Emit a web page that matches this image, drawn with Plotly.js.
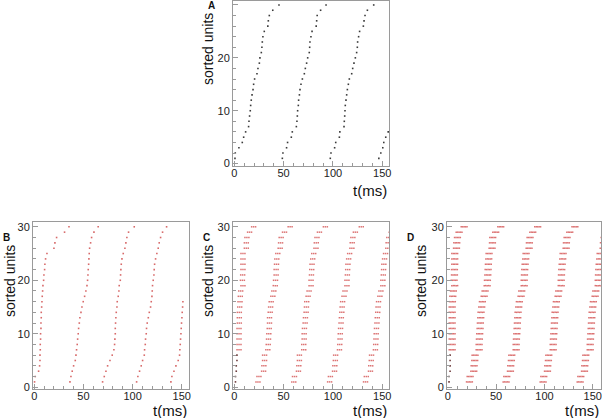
<!DOCTYPE html>
<html>
<head>
<meta charset="utf-8">
<script src="https://cdn.plot.ly/plotly-3.0.1.min.js"></script>
<style>html,body{margin:0;padding:0;background:#fff;}#chart{width:602px;height:418px;}</style>
</head>
<body>
<div id="chart"></div>
<script>
// ---- data (spike times in ms, index 0 = unit 1 ... index 29 = unit 30) ----
var units = [1,2,3,4,5,6,7,8,9,10,11,12,13,14,15,16,17,18,19,20,21,22,23,24,25,26,27,28,29,30];
var xTickVals = [0, 50, 100, 150];
var yTickVals = [0, 10, 20, 30];

// Panel A: single spikes, black
var A_sweep1 = [0.7,1,4.7,8.1,9.5,11.5,14.5,14.9,15.5,16.2,16.6,17.2,18,19,19.6,20.6,23,24,25.4,26,27.4,28,28.4,29,30.4,34,34.5,35.5,39,45.3];
var A_sweep2 = [48.7,49.3,53,54,57.8,58.8,62.9,63.5,63.9,64.2,64.9,65.2,66,66.6,67.6,69,71,72,73.3,74.4,76,76.4,76.7,77.7,78.8,83,83.5,84,87.5,93];
var A_sweep3 = [97.3,98,101.7,102.8,106.5,107,111.2,111.5,111.9,112.2,112.5,113.2,113.9,114.6,115.6,116.6,119,120,121.3,122.7,124,124.7,125,126,127,130.8,131.5,132.5,134.9,141.3];
var A_sweep4 = [146.5,148.5,150.5,151.5,153.5,156,null,null,null,null,null,null,null,null,null,null,null,null,null,null,null,null,null,null,null,null,null,null,null,null];

// Panel B: single spikes
var B_sweep1 = [0.3,1,4.4,5.4,5.8,5.8,6.1,6.1,6.4,6.4,6.8,6.8,7.1,7.1,7.5,7.8,8.1,8.5,8.8,9.5,9.8,10.5,10.8,11.5,12.9,20,21,22.7,30.8,35.3];
var B_sweep2 = [36.3,37.3,38.6,40,41.7,42.4,43,43.7,44.1,44.7,45.1,45.8,46.4,47.5,48.5,49.8,51.2,52.5,53.6,54.2,54.6,54.9,55.3,55.6,55.9,56.3,57.3,58.3,60.7,65];
var B_sweep3 = [69.5,71.2,72.9,74.6,77,79.3,81,81.7,82,82.4,82.4,82.7,83,83.4,84.1,84.4,85.4,86.1,86.4,87.5,87.8,88.1,88.5,89.2,90.5,92.2,93.2,94.2,95.9,101.7];
var B_sweep4 = [104.1,105.4,107.1,108.8,110.2,111.9,112.2,112.9,113.2,113.9,114.2,114.9,116,117,118.3,119,119.7,120,120.3,121,121.7,122,122.4,123.4,124.7,126.1,127.1,128.5,130.5,134.6];
var B_sweep5 = [139,140,142.1,144.1,146.4,147.8,148.1,148.5,148.8,149.2,149.5,149.8,150.2,150.5,150.9,151.2,null,null,null,null,null,null,null,null,null,null,null,null,null,null];

// Panel C: bursts of 3 spikes (burst centre per unit)
var C_burst = [-2, 0, 2];
var C_initial = [1.2,1.2,2,2,2.7,2.7,null,null,null,null,null,null,null,null,null,null,null,null,null,null,null,null,null,null,null,null,null,null,null,null];
var C_sweep1 = [null,null,null,null,null,null,4.8,4.8,4.8,4.8,4.8,5.1,5.1,5.1,5.5,5.8,6.1,6.5,8.8,8.2,8.5,8.8,8.8,8.8,8.8,12.2,12.2,12.8,15.5,19.6];
var C_sweep2 = [24,25,29.7,30,30.7,30.7,34,34.4,34.7,35,35.4,35.7,35.7,36.4,36.8,37.4,39.1,40.1,41.5,41.8,42.4,42.4,42.8,43.1,44.1,46.5,46.9,47.5,50.9,56.6];
var C_sweep3 = [60.3,61,65,65.4,66,66,70.4,70.4,70.8,70.8,71.1,71.8,72.1,72.8,73.1,73.4,74.8,75.8,77.8,77.8,78.2,78.5,78.8,79.5,80.5,82.8,83.1,83.8,86.3,92.3];
var C_sweep4 = [96.6,97.4,101.6,101.9,102.4,102.7,106.6,106.9,107.2,107.4,107.7,108.2,108.5,109,109.3,109.8,111.2,112.2,114.2,114.2,114.6,114.9,115.2,115.9,116.9,119.2,119.5,120.2,122.7,128.7];
var C_sweep5 = [133,133.8,138,138.3,138.8,139.1,143,143.3,143.6,143.8,144.1,144.6,144.9,145.4,145.7,146.2,147.6,148.6,150.6,150.6,151,151.3,151.6,152.3,153.3,155.6,155.9,156.6,159,165];

// Panel D: bursts of 5 spikes (burst centre per unit)
var D_burst = [-3, -1.5, 0, 1.5, 3];
var D_initial = [1.3,1.3,2.4,2.4,2.4,2.4,null,null,null,null,null,null,null,null,null,null,null,null,null,null,null,null,null,null,null,null,null,null,null,null];
var D_sweep1 = [null,null,null,null,null,null,4.5,4.5,4.5,4.5,4.5,4.5,4.5,4.5,4.5,4.8,5.2,5.8,7.2,6.5,6.9,6.9,7.2,7.2,7.2,9,9.3,10,11.7,16.9];
var D_sweep2 = [22.4,23.1,26.9,27.2,27.9,28.2,32.4,32.4,32.7,33,33.4,33.7,34.1,34.4,35.1,35.8,37.6,38.6,40.7,41,41.4,41.7,42,42.4,42.7,45.8,46.2,46.5,49.6,54.8];
var D_sweep3 = [60.3,61,64.8,65.1,65.8,66.2,70.7,70.7,71,71.4,71.7,72,72.4,72.7,73.4,74,75.8,76.5,79,79,79.3,79.6,80,80.6,81,84.1,84.4,85.1,87.9,93];
var D_sweep4 = [98.6,99.3,103.1,103.4,104.1,104.5,109,109,109.3,109.7,110,110.3,110.7,111,111.7,112.3,114.1,114.8,117.3,117.3,117.6,117.9,118.3,118.9,119.3,122.4,122.7,123.4,126.2,131.5];
var D_sweep5 = [136.9,137.6,141.4,141.7,142.4,142.8,147.3,147.3,147.6,148,148.3,148.6,149,149.3,150,150.6,152.4,153.1,155.6,155.6,155.9,156.2,156.6,157.2,157.6,160.7,161,161.7,164.5,169.8];

// ---- build traces ----
function spikes(sweeps, burst) {
  var xs = [], ys = [];
  sweeps.forEach(function (sw) {
    for (var i = 0; i < units.length; i++) {
      if (sw[i] === null) continue;
      burst.forEach(function (o) { xs.push(sw[i] + o); ys.push(units[i]); });
    }
  });
  return {x: xs, y: ys};
}
function trace(d, xa, ya, color, size) {
  return {type: 'scatter', mode: 'markers', x: d.x, y: d.y, xaxis: xa, yaxis: ya,
          marker: {symbol: 'square', size: size, color: color, line: {width: 0}},
          hoverinfo: 'skip', cliponaxis: true};
}
var single = [0];
var tA = trace(spikes([A_sweep1, A_sweep2, A_sweep3, A_sweep4], single), 'x', 'y', '#3a3a3a', 1.6);
var tB = trace(spikes([B_sweep1, B_sweep2, B_sweep3, B_sweep4, B_sweep5], single), 'x2', 'y2', 'rgb(215,105,105)', 1.6);
var tCi = trace(spikes([C_initial], single), 'x3', 'y3', 'rgb(110,60,60)', 1.6);
var tC = trace(spikes([C_sweep1, C_sweep2, C_sweep3, C_sweep4, C_sweep5], C_burst), 'x3', 'y3', 'rgb(220,115,115)', 1.5);
var tDi = trace(spikes([D_initial], single), 'x4', 'y4', 'rgb(110,60,60)', 1.6);
var tD = trace(spikes([D_sweep1, D_sweep2, D_sweep3, D_sweep4, D_sweep5], D_burst), 'x4', 'y4', 'rgb(220,115,115)', 1.5);

// ---- layout (pixel frames converted to paper fractions) ----
var W = 602, H = 418;
function dx(a, b) { return [a / W, b / W]; }
function dy(top, bot) { return [1 - bot / H, 1 - top / H]; }
var font = 'Liberation Sans, Arial, Helvetica, sans-serif';
function xax(dom, rng, anchor) {
  return {domain: dom, range: rng, anchor: anchor, showline: true, linecolor: '#9a9a9a', linewidth: 1,
          mirror: true, ticks: 'inside', ticklen: 5, tickcolor: '#9a9a9a', tickwidth: 1,
          tickmode: 'array', tickvals: xTickVals, showgrid: false, zeroline: false,
          ticklabelstandoff: -3,
          tickfont: {family: font, size: 11, color: '#222'},
          minor: {ticks: 'inside', ticklen: 3, dtick: 10, tick0: 0, tickcolor: '#9a9a9a', showgrid: false}};
}
function yax(dom, rng, anchor) {
  return {domain: dom, range: rng, anchor: anchor, showline: true, linecolor: '#9a9a9a', linewidth: 1,
          mirror: true, ticks: 'inside', ticklen: 5, tickcolor: '#9a9a9a', tickwidth: 1,
          tickmode: 'array', tickvals: yTickVals, showgrid: false, zeroline: false,
          tickfont: {family: font, size: 11, color: '#222'},
          minor: {ticks: 'inside', ticklen: 3, dtick: 2, tick0: 0, tickcolor: '#9a9a9a', showgrid: false}};
}
function ann(text, xp, yp, xa, ya, size, angle, bold) {
  return {text: bold ? '<b>' + text + '</b>' : text, xref: 'paper', yref: 'paper', x: xp / W, y: 1 - yp / H,
          xanchor: xa, yanchor: ya, showarrow: false, textangle: angle || 0,
          font: {family: font, size: size, color: '#111'}};
}
var layout = {
  width: W, height: H, margin: {l: 0, r: 0, t: 0, b: 0}, showlegend: false,
  paper_bgcolor: '#fff', plot_bgcolor: '#fff',
  xaxis: xax(dx(233, 389), [-1.3, 156.8], 'y'),
  yaxis: yax(dy(1, 166), [-0.45, 30.75], 'x'),
  xaxis2: xax(dx(33, 189), [-1.3, 157.4], 'y2'),
  yaxis2: yax(dy(222, 389), [-0.33, 30.9], 'x2'),
  xaxis3: xax(dx(233, 389), [-1.3, 156.8], 'y3'),
  yaxis3: yax(dy(222, 389), [-0.33, 30.9], 'x3'),
  xaxis4: xax(dx(447, 601), [-0.8, 158.5], 'y4'),
  yaxis4: yax(dy(222, 389), [-0.33, 30.9], 'x4'),
  annotations: [
    ann('sorted units', 208, 11, 'center', 'top', 14, -90),
    ann('t(ms)', 389, 190, 'right', 'middle', 15, 0),
    ann('sorted units', 10, 243, 'center', 'top', 14, -90),
    ann('t(ms)', 189, 410, 'right', 'middle', 15, 0),
    ann('sorted units', 208, 243, 'center', 'top', 14, -90),
    ann('t(ms)', 389, 410, 'right', 'middle', 15, 0),
    ann('sorted units', 421, 243, 'center', 'top', 14, -90),
    ann('t(ms)', 601, 410, 'right', 'middle', 15, 0),
    ann('A', 212, 5, 'center', 'middle', 10, 0, true),
    ann('B', 6, 237, 'center', 'middle', 10, 0, true),
    ann('C', 206, 237, 'center', 'middle', 10, 0, true),
    ann('D', 410, 237, 'center', 'middle', 10, 0, true)
  ]
};
Plotly.newPlot('chart', [tA, tB, tCi, tC, tDi, tD], layout, {staticPlot: true, displayModeBar: false});
</script>
</body>
</html>
